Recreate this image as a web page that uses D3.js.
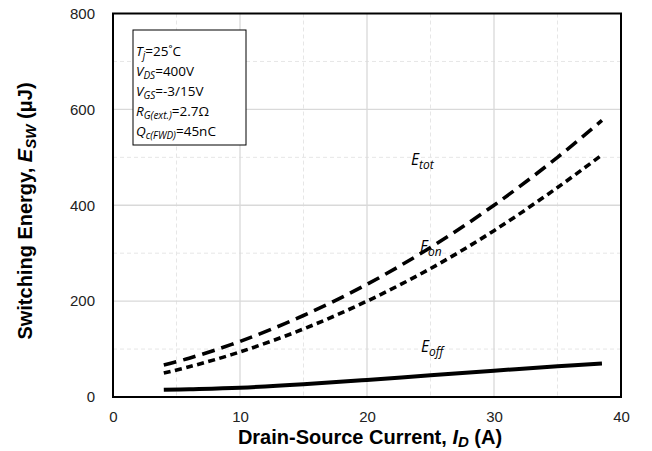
<!DOCTYPE html>
<html><head><meta charset="utf-8">
<script src="https://cdn.jsdelivr.net/npm/d3@7"></script>
<style>body{margin:0;background:#fff}</style>
</head><body>
<svg id="c" width="652" height="451"></svg>
<script>
const xTicks = [0, 10, 20, 30, 40];
const yTicks = [0, 200, 400, 600, 800];
const xMinor = [5, 15, 25, 35];
const yMinor = [100, 300, 500, 700];
const current = [4, 6, 10, 15, 20, 25, 30, 35, 38.5];
const eTot = [67, 81, 116, 170, 235, 312, 400, 500, 577];
const eOn  = [50, 63, 94, 142, 200, 268, 347, 437, 505];
const eOff = [15, 16.3, 19.5, 26.5, 35.5, 45.5, 55, 64, 70];

const svg = d3.select('#c');
const x = d3.scaleLinear().domain([0, 40]).range([113, 621]);
const y = d3.scaleLinear().domain([0, 800]).range([397, 13.5]);

const g = svg.append('g');
g.selectAll('.gxm').data(xMinor).enter().append('line')
  .attr('x1', d => x(d)).attr('x2', d => x(d)).attr('y1', y(800)).attr('y2', y(0))
  .attr('stroke', '#e6e6e6').attr('stroke-dasharray', '4,3').attr('stroke-width', 1);
g.selectAll('.gym').data(yMinor).enter().append('line')
  .attr('y1', d => y(d)).attr('y2', d => y(d)).attr('x1', x(0)).attr('x2', x(40))
  .attr('stroke', '#e6e6e6').attr('stroke-dasharray', '4,3').attr('stroke-width', 1);
g.selectAll('.gx').data(xTicks.slice(1, -1)).enter().append('line')
  .attr('x1', d => x(d)).attr('x2', d => x(d)).attr('y1', y(800)).attr('y2', y(0))
  .attr('stroke', '#d9d9d9').attr('stroke-width', 1.3);
g.selectAll('.gy').data(yTicks.slice(1, -1)).enter().append('line')
  .attr('y1', d => y(d)).attr('y2', d => y(d)).attr('x1', x(0)).attr('x2', x(40))
  .attr('stroke', '#d9d9d9').attr('stroke-width', 1.3);

const xAxis = svg.append('g').attr('transform', `translate(0,${y(0)})`)
  .call(d3.axisBottom(x).tickValues(xTicks).tickSize(0).tickPadding(14));
const yAxis = svg.append('g').attr('transform', `translate(${x(0)},0)`)
  .call(d3.axisLeft(y).tickValues(yTicks).tickSize(0).tickPadding(18));
[xAxis, yAxis].forEach(a => {
  a.select('.domain').remove();
  a.selectAll('text').attr('font-family', 'Liberation Sans, Arial, sans-serif')
    .attr('font-size', 15).attr('fill', '#222');
});

const line = d3.line().x(d => x(d[0])).y(d => y(d[1])).curve(d3.curveCatmullRom);
const series = [
  {v: eTot, dash: '13,7', w: 3.6},
  {v: eOn, dash: '7,4.5', w: 3.6},
  {v: eOff, dash: null, w: 4}
];
series.forEach(s => {
  svg.append('path').datum(current.map((c, i) => [c, s.v[i]]))
    .attr('d', line).attr('fill', 'none').attr('stroke', '#000')
    .attr('stroke-width', s.w).attr('stroke-dasharray', s.dash);
});

svg.append('rect').attr('x', x(0)).attr('y', y(800))
  .attr('width', x(40) - x(0)).attr('height', y(0) - y(800))
  .attr('fill', 'none').attr('stroke', '#000').attr('stroke-width', 2);

const ff = 'Open Sans, Liberation Sans, sans-serif';
function lab(px, py, main, sub) {
  const t = svg.append('text').attr('x', px).attr('y', py)
    .attr('font-family', ff).attr('font-style', 'italic').attr('font-size', 15.5).attr('fill', '#000');
  t.append('tspan').text(main);
  t.append('tspan').attr('dy', 4).attr('font-size', 12).text(sub);
}
lab(411, 165, 'E', 'tot');
lab(420, 252, 'E', 'on');
lab(421, 352, 'E', 'off');

// annotation box
svg.append('rect').attr('x', 133).attr('y', 30).attr('width', 113).attr('height', 115)
  .attr('fill', '#fff').attr('stroke', '#000').attr('stroke-width', 1);
const ann = [
  ['T', 'j', '=25˚C'],
  ['V', 'DS', '=400V'],
  ['V', 'GS', '=-3/15V'],
  ['R', 'G(ext.)', '=2.7Ω'],
  ['Q', 'c(FWD)', '=45nC']
];
ann.forEach((a, i) => {
  const t = svg.append('text').attr('x', 136).attr('y', 56 + i * 20)
    .attr('font-family', ff).attr('font-size', 13.5).attr('fill', '#000');
  t.append('tspan').attr('font-style', 'italic').text(a[0]);
  t.append('tspan').attr('font-style', 'italic').attr('font-size', 10).attr('dy', 3).text(a[1]);
  t.append('tspan').attr('dy', -3).text(a[2]);
});

// axis titles
const xt = svg.append('text').attr('x', 370).attr('y', 444).attr('text-anchor', 'middle')
  .attr('font-family', 'Liberation Sans, Arial, sans-serif').attr('font-weight', 'bold')
  .attr('font-size', 20).attr('fill', '#000');
xt.append('tspan').text('Drain-Source Current, ');
xt.append('tspan').attr('font-style', 'italic').text('I');
xt.append('tspan').attr('font-style', 'italic').attr('font-size', 15).attr('dy', 3).text('D');
xt.append('tspan').attr('dy', -3).text(' (A)');

const yt = svg.append('text').attr('transform', 'translate(32,211) rotate(-90)').attr('text-anchor', 'middle')
  .attr('font-family', 'Liberation Sans, Arial, sans-serif').attr('font-weight', 'bold')
  .attr('font-size', 20).attr('fill', '#000');
yt.append('tspan').text('Switching Energy, ');
yt.append('tspan').attr('font-style', 'italic').text('E');
yt.append('tspan').attr('font-style', 'italic').attr('font-size', 15).attr('dy', 4).text('SW');
yt.append('tspan').attr('dy', -4).text(' (μJ)');
</script>
</body></html>
